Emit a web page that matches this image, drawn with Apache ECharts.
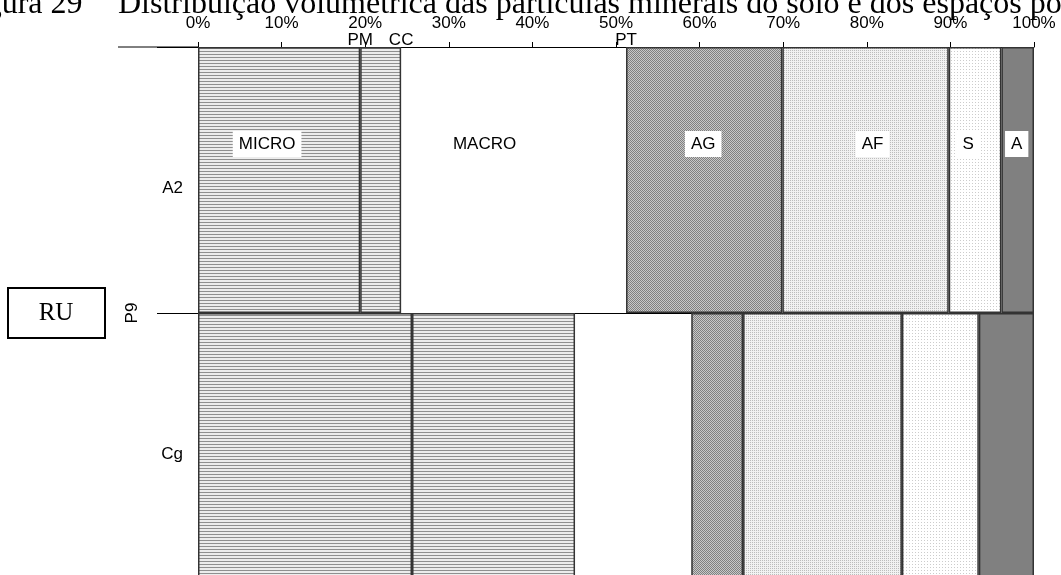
<!DOCTYPE html>
<html>
<head>
<meta charset="utf-8">
<script src="https://cdn.jsdelivr.net/npm/echarts@6/dist/echarts.min.js"></script>
<style>
    html, body { margin: 0; padding: 0; background: #fff; }
    #chart { width: 1061px; height: 575px; }
</style>
</head>
<body>
<div id="chart"></div>
<script>
// horizontes do perfil P9
const categories = ['A2', 'Cg']
// frações em % do volume (0 -> PM -> CC -> PT -> 100)
const micro1 = [19.4, 25.6]
const micro2 = [4.9, 19.5]
const macro = [26.9, 13.9]
const ag = [18.7, 6.2]
const af = [19.9, 19.0]
const silte = [6.3, 9.2]
const argila = [3.9, 6.6]
const tickLabels = ['PM', 'CC', 'PT']

// limites PM, CC, PT do primeiro horizonte
const limites = [
    micro1[0],
    micro1[0] + micro2[0],
    micro1[0] + micro2[0] + macro[0]
]

const font = 'Liberation Sans, Arial, sans-serif'

function pattern(w, h, draw) {
    const c = document.createElement('canvas')
    c.width = w
    c.height = h
    const ctx = c.getContext('2d')
    draw(ctx)
    return { image: c, repeat: 'repeat' }
}

const listras = pattern(4, 3, ctx => {
    ctx.fillStyle = '#ececec'
    ctx.fillRect(0, 0, 4, 3)
    ctx.fillStyle = '#8f8f8f'
    ctx.fillRect(0, 0, 4, 1)
})
const pontosEscuros = pattern(2, 2, ctx => {
    ctx.fillStyle = '#c8c8c8'
    ctx.fillRect(0, 0, 2, 2)
    ctx.fillStyle = '#808080'
    ctx.fillRect(0, 0, 1, 1)
    ctx.fillRect(1, 1, 1, 1)
})
const pontosClaros = pattern(2, 2, ctx => {
    ctx.fillStyle = '#f2f2f2'
    ctx.fillRect(0, 0, 2, 2)
    ctx.fillStyle = '#bdbdbd'
    ctx.fillRect(0, 0, 1, 1)
})
const pontosRaros = pattern(3, 3, ctx => {
    ctx.fillStyle = '#ffffff'
    ctx.fillRect(0, 0, 3, 3)
    ctx.fillStyle = '#cccccc'
    ctx.fillRect(0, 0, 1, 1)
})

const labelBase = {
    show: false,
    position: 'insideTop',
    distance: 84,
    color: '#000',
    fontFamily: font,
    fontSize: 17,
    backgroundColor: '#fff',
    padding: [5, 6, 4, 6]
}

function serie(name, values, color, offset, border) {
    return {
        name: name,
        type: 'bar',
        stack: 'total',
        barWidth: '100%',
        barCategoryGap: '0%',
        itemStyle: {
            color: color,
            borderColor: '#333',
            borderWidth: border === false ? 0 : 1.5
        },
        label: Object.assign({}, labelBase, { offset: offset, formatter: name }),
        emphasis: { disabled: true },
        data: values.map((v, i) => i === 0 && offset ? { value: v, label: { show: true } } : v)
    }
}

const titleStyle = { fontFamily: 'Liberation Serif', fontSize: 32, fontWeight: 'normal', color: '#000' }

const chart = echarts.init(document.getElementById('chart'))
chart.setOption({
    animation: false,
    title: [{
        text: 'Figura 29',
        left: -46,
        top: -16,
        textStyle: titleStyle
    }, {
        text: 'Distribuição volumétrica das partículas minerais do solo e dos espaços porosos',
        left: 113,
        top: -16,
        textStyle: titleStyle
    }],
    grid: {
        top: 47,
        left: 198,
        right: 27,
        height: 532,
        outerBoundsMode: 'none'
    },
    xAxis: [{
        type: 'value',
        position: 'top',
        min: 0,
        max: 100,
        interval: 10,
        axisLine: { show: true, lineStyle: { color: '#000', width: 1 } },
        axisTick: { show: true, length: 5, lineStyle: { color: '#000' } },
        axisLabel: { formatter: '{value}%', color: '#000', fontFamily: font, fontSize: 17, margin: 15 },
        splitLine: { show: false }
    }, {
        type: 'value',
        position: 'top',
        min: 0,
        max: 100,
        axisLine: { show: false },
        axisTick: { show: false },
        splitLine: { show: false },
        axisLabel: {
            customValues: limites,
            formatter: (v) => tickLabels[limites.indexOf(v)] || '',
            color: '#000',
            fontFamily: font,
            fontSize: 17,
            margin: -2
        }
    }],
    yAxis: {
        type: 'category',
        inverse: true,
        data: categories,
        name: 'P9',
        nameLocation: 'middle',
        nameRotate: 90,
        nameGap: 57,
        nameTextStyle: { color: '#000', fontFamily: font, fontSize: 17 },
        axisLine: { show: false },
        axisTick: { show: true, length: 41, lineStyle: { color: '#000' } },
        axisLabel: { color: '#000', fontFamily: font, fontSize: 17, margin: 15, verticalAlign: 'top', lineHeight: 17 },
        splitLine: { show: true, lineStyle: { color: '#000', width: 1 } }
    },
    graphic: [{
        type: 'line',
        shape: { x1: 118, y1: 47, x2: 198, y2: 47 },
        style: { stroke: '#000', lineWidth: 1 }
    }, {
        type: 'rect',
        shape: { x: 8, y: 288, width: 97, height: 50 },
        style: { fill: '#fff', stroke: '#000', lineWidth: 2 }
    }, {
        type: 'text',
        x: 56,
        y: 313,
        style: {
            text: 'RU',
            fill: '#000',
            font: '25px Liberation Serif',
            align: 'center',
            verticalAlign: 'middle'
        }
    }],
    series: [
        serie('MICRO', micro1, listras, [-12, 0]),
        serie('micro2', micro2, listras, null),
        serie('MACRO', macro, 'rgba(255,255,255,0)', [-29, 0], false),
        serie('AG', ag, pontosEscuros, [-1, 0]),
        serie('AF', af, pontosClaros, [7, 0]),
        serie('S', silte, pontosRaros, [-7, 0]),
        serie('A', argila, '#808080', [-1, 0])
    ]
})
</script>
</body>
</html>
